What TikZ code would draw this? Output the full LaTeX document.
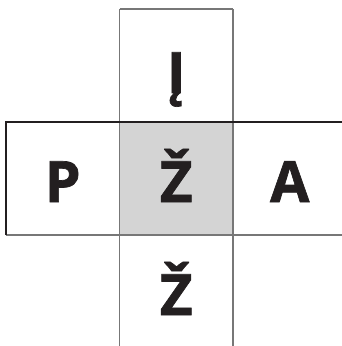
\documentclass[tikz,border=0pt]{standalone}
\usepackage{fontspec}
\setmainfont{Open Sans}
\newfontfamily\glyphfont[FakeBold=1.2]{Open Sans Bold}
\definecolor{ink}{HTML}{231F20}
\definecolor{cellgray}{HTML}{D4D4D4}
\definecolor{linegray}{HTML}{777777}
\begin{document}
\begin{tikzpicture}[x=1pt,y=-1pt,
  glyph/.style={anchor=base,text=ink,font=\glyphfont\fontsize{57}{60}\selectfont,inner sep=0pt},
  gline/.style={draw=linegray,line width=1.3pt},
  bline/.style={draw=ink,line width=1.3pt}]
\useasboundingbox (0,0) rectangle (342,346);
% center fill
\fill[cellgray] (119.5,122) rectangle (233,235);
% grid lines
\draw[gline] (119.5,9) -- (233,9);
\draw[gline] (119.5,9) -- (119.5,350);
\draw[gline] (233,9) -- (233,350);
\draw[gline] (6,235) -- (350,235);
\draw[bline] (6,235) -- (6,122) -- (350,122);
% letters
\node[glyph] (top) at (176.25,93) {Į};
\node[glyph] (left) at (62.75,202) {P};
\node[glyph] (mid) at (176.25,202) {Ž};
\node[glyph] (right) at (289.75,202) {A};
\node[glyph] (bot) at (176.25,315) {Ž};
\end{tikzpicture}
\end{document}
